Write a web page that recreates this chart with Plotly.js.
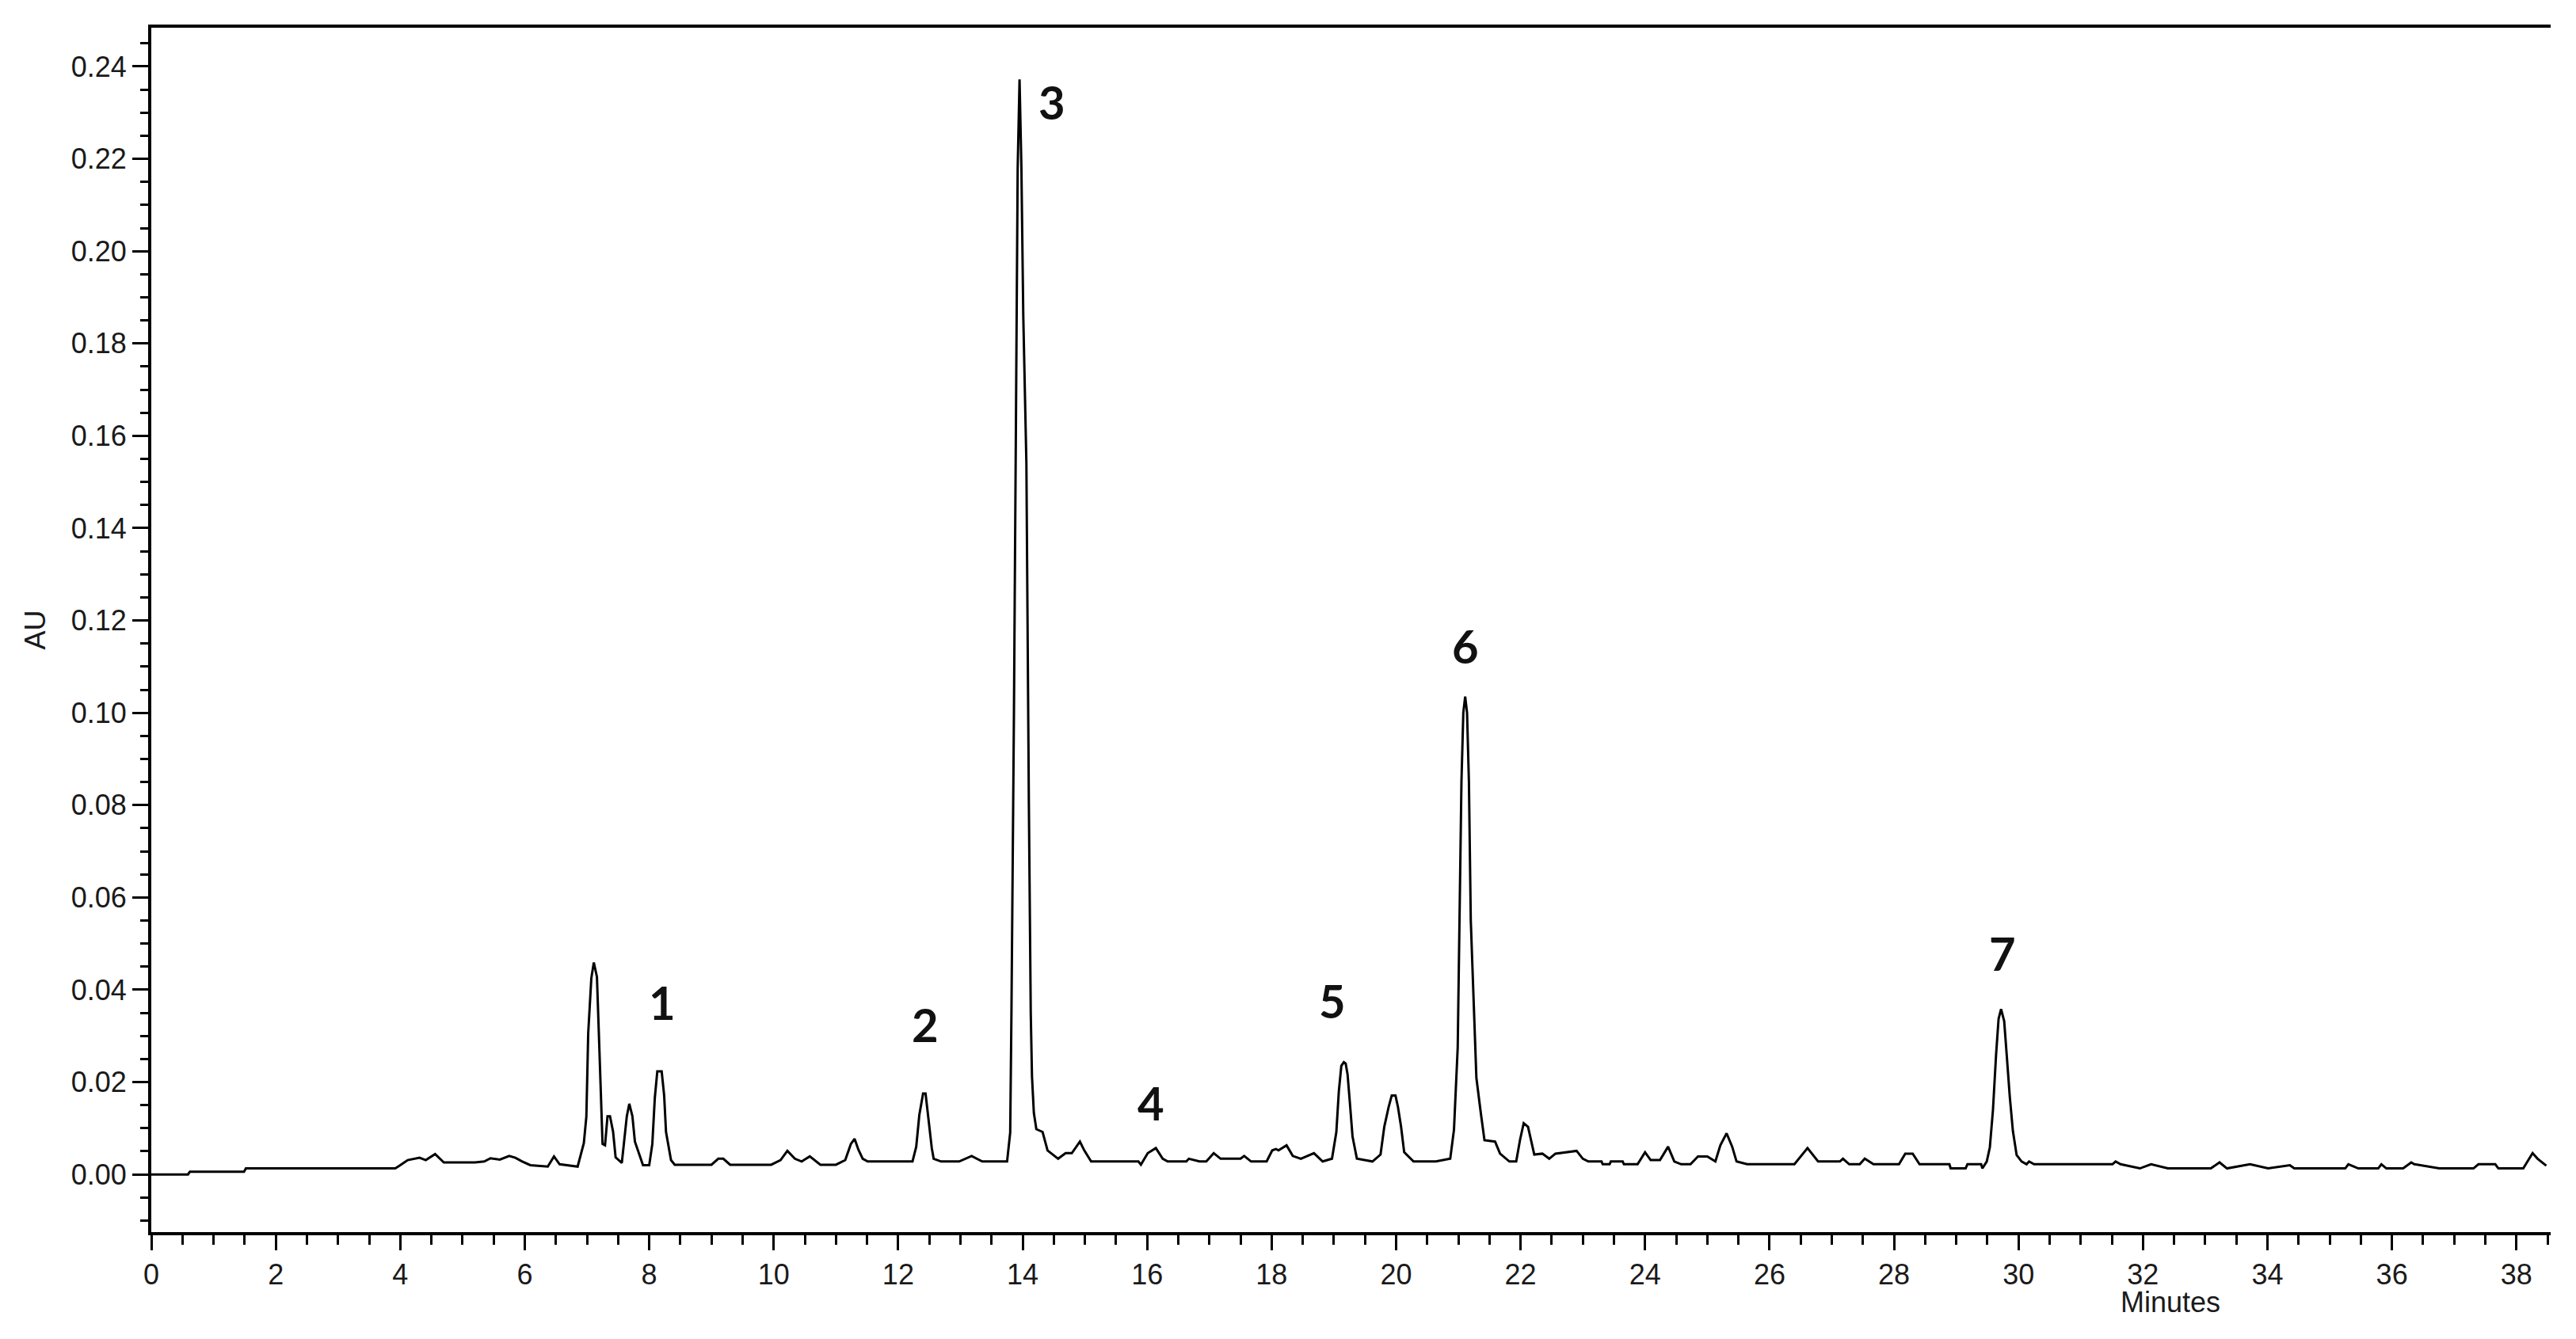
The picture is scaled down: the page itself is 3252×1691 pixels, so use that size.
<!DOCTYPE html>
<html>
<head>
<meta charset="utf-8">
<script src="https://cdn.plot.ly/plotly-3.0.1.min.js"></script>
<style>html,body{margin:0;padding:0;background:#fff;}#chart{width:3252px;height:1691px;}</style>
</head>
<body>
<div id="chart"></div>
<script>
// Retention time (minutes)
const timeMin = [
0.00,0.59,0.62,1.49,1.52,3.92,3.99,4.12,4.31,4.41,4.56,4.70,5.20,5.35,5.45,5.60,5.75,5.85,5.96,6.09,
6.37,6.47,6.56,6.85,6.95,6.99,7.02,7.07,7.11,7.16,7.19,7.23,7.25,7.29,7.33,7.37,7.42,7.46,7.56,7.64,
7.68,7.73,7.77,7.90,8.00,8.05,8.09,8.13,8.20,8.24,8.27,8.35,8.41,9.00,9.11,9.19,9.30,9.96,10.11,10.22,
10.34,10.45,10.58,10.75,11.00,11.15,11.24,11.30,11.36,11.43,11.51,12.23,12.29,12.34,12.40,12.44,12.48,12.54,12.57,12.69,
12.98,13.18,13.35,13.75,13.80,13.82,13.86,13.89,13.92,13.95,13.98,14.01,14.06,14.10,14.13,14.15,14.18,14.22,14.32,14.40,
14.57,14.69,14.79,14.92,14.99,15.10,15.86,15.90,16.01,16.14,16.25,16.33,16.63,16.67,16.84,16.95,17.07,17.18,17.50,17.56,
17.67,17.92,18.01,18.07,18.11,18.24,18.34,18.47,18.68,18.82,18.97,19.04,19.08,19.12,19.16,19.19,19.22,19.26,19.30,19.37,
19.62,19.75,19.81,19.88,19.93,19.99,20.03,20.08,20.13,20.28,20.64,20.87,20.93,20.99,21.02,21.05,21.08,21.11,21.14,21.17,
21.20,21.25,21.29,21.36,21.42,21.59,21.67,21.82,21.93,21.99,22.05,22.12,22.22,22.35,22.46,22.56,22.90,23.00,23.09,23.30,
23.32,23.43,23.45,23.64,23.66,23.88,24.00,24.09,24.24,24.37,24.47,24.58,24.73,24.85,25.00,25.13,25.21,25.31,25.40,25.47,
25.64,26.40,26.50,26.61,26.78,27.13,27.18,27.28,27.45,27.53,27.67,28.08,28.18,28.30,28.41,28.89,28.91,29.15,29.18,29.40,
29.42,29.49,29.54,29.59,29.64,29.68,29.72,29.77,29.81,29.86,29.91,29.97,30.05,30.13,30.17,30.25,31.51,31.56,31.64,31.95,
32.13,32.40,33.09,33.23,33.35,33.72,34.01,34.36,34.43,35.25,35.30,35.46,35.78,35.83,35.91,36.18,36.31,36.36,36.76,37.31,
37.39,37.66,37.71,38.11,38.26,38.34,38.48
];
// Absorbance (AU)
const absorbance = [
0.0000,0.0000,0.0006,0.0006,0.0013,0.0013,0.0019,0.0031,0.0036,0.0031,0.0044,0.0026,0.0026,0.0028,0.0035,0.0032,0.0040,0.0036,0.0028,0.0020,
0.0017,0.0039,0.0022,0.0017,0.0068,0.0125,0.0306,0.0425,0.0459,0.0428,0.0309,0.0160,0.0066,0.0063,0.0126,0.0126,0.0092,0.0037,0.0025,0.0126,
0.0153,0.0126,0.0071,0.0020,0.0020,0.0066,0.0166,0.0223,0.0223,0.0171,0.0092,0.0031,0.0021,0.0021,0.0034,0.0034,0.0021,0.0021,0.0031,0.0051,
0.0034,0.0028,0.0039,0.0021,0.0021,0.0031,0.0066,0.0077,0.0054,0.0034,0.0028,0.0028,0.0060,0.0129,0.0175,0.0175,0.0129,0.0057,0.0034,0.0028,
0.0028,0.0040,0.0028,0.0028,0.0091,0.0350,0.1000,0.1550,0.2180,0.2372,0.2180,0.1860,0.1540,0.0800,0.0350,0.0212,0.0133,0.0098,0.0092,0.0052,
0.0034,0.0046,0.0046,0.0071,0.0052,0.0028,0.0028,0.0021,0.0046,0.0057,0.0034,0.0028,0.0028,0.0034,0.0028,0.0028,0.0046,0.0034,0.0034,0.0040,
0.0028,0.0028,0.0052,0.0055,0.0052,0.0063,0.0040,0.0034,0.0046,0.0028,0.0034,0.0092,0.0180,0.0235,0.0243,0.0240,0.0217,0.0151,0.0082,0.0034,
0.0028,0.0043,0.0103,0.0146,0.0171,0.0171,0.0146,0.0103,0.0048,0.0028,0.0028,0.0034,0.0097,0.0275,0.0573,0.0850,0.1000,0.1035,0.1000,0.0850,
0.0550,0.0341,0.0209,0.0134,0.0074,0.0071,0.0045,0.0028,0.0028,0.0074,0.0111,0.0103,0.0043,0.0045,0.0034,0.0045,0.0051,0.0034,0.0028,0.0028,
0.0022,0.0022,0.0028,0.0028,0.0022,0.0022,0.0048,0.0031,0.0031,0.0060,0.0028,0.0022,0.0022,0.0039,0.0039,0.0028,0.0063,0.0089,0.0060,0.0028,
0.0022,0.0022,0.0039,0.0057,0.0028,0.0028,0.0034,0.0022,0.0022,0.0034,0.0022,0.0022,0.0045,0.0045,0.0022,0.0022,0.0013,0.0013,0.0022,0.0022,
0.0013,0.0028,0.0059,0.0140,0.0260,0.0337,0.0358,0.0332,0.0260,0.0168,0.0094,0.0042,0.0028,0.0022,0.0028,0.0022,0.0022,0.0028,0.0022,0.0013,
0.0022,0.0013,0.0013,0.0026,0.0013,0.0022,0.0013,0.0020,0.0013,0.0013,0.0022,0.0013,0.0013,0.0022,0.0013,0.0013,0.0026,0.0022,0.0013,0.0013,
0.0022,0.0022,0.0013,0.0013,0.0046,0.0034,0.0019
];
// Peak labels
const peakLabels = ["1","2","3","4","5","6","7"];
const peakLabelX = [8.21, 12.44, 14.47, 16.06, 18.98, 21.11, 29.74];
const peakLabelY = [0.0374, 0.0325, 0.2323, 0.0156, 0.0377, 0.1146, 0.0480];

const xTitle = "Minutes";
const yTitle = "AU";

const annotations = peakLabels.map((t, i) => ({
  x: peakLabelX[i], y: peakLabelY[i], xref: 'x', yref: 'y',
  text: '<b>' + t + '</b>', showarrow: false,
  xanchor: 'center', yanchor: 'middle',
  font: {family: 'Lato, "Open Sans", sans-serif', size: 58, color: '#111'}
}));
annotations.push({
  x: 32.44, y: -0.0585, xref: 'x', yref: 'paper', text: xTitle, showarrow: false,
  xanchor: 'center', yanchor: 'middle',
  font: {family: '"Liberation Sans", Arial, sans-serif', size: 36, color: '#1a1a1a'}
});

const trace = {
  x: timeMin, y: absorbance, type: 'scatter', mode: 'lines',
  line: {color: '#000', width: 3}, hoverinfo: 'skip'
};

const layout = {
  width: 3252, height: 1691,
  margin: {l: 191, r: 32, t: 35, b: 135},
  paper_bgcolor: '#fff', plot_bgcolor: '#fff',
  showlegend: false,
  font: {family: '"Liberation Sans", Arial, sans-serif', size: 36, color: '#1a1a1a'},
  xaxis: {
    range: [0, 38.55], dtick: 2, tick0: 0,
    showgrid: false, zeroline: false,
    showline: true, linecolor: '#000', linewidth: 4, mirror: true,
    ticks: 'outside', ticklen: 19, tickwidth: 3, tickcolor: '#000',
    minor: {dtick: 0.5, ticks: 'outside', ticklen: 12, tickwidth: 3, tickcolor: '#000', showgrid: false},
    tickfont: {size: 36, color: '#1a1a1a'}
  },
  yaxis: {
    range: [-0.0125, 0.2484], dtick: 0.02, tick0: 0, tickformat: '.2f',
    showgrid: false, zeroline: false,
    showline: true, linecolor: '#000', linewidth: 4, mirror: false,
    ticks: 'outside', ticklen: 20, tickwidth: 3, tickcolor: '#000',
    minor: {dtick: 0.005, ticks: 'outside', ticklen: 10, tickwidth: 3, tickcolor: '#000', showgrid: false},
    tickfont: {size: 36, color: '#1a1a1a'},
    title: {text: yTitle, standoff: 22, font: {size: 36, color: '#1a1a1a'}}
  },
  annotations: annotations
};

Plotly.newPlot('chart', [trace], layout, {displayModeBar: false, staticPlot: true});
</script>
</body>
</html>
